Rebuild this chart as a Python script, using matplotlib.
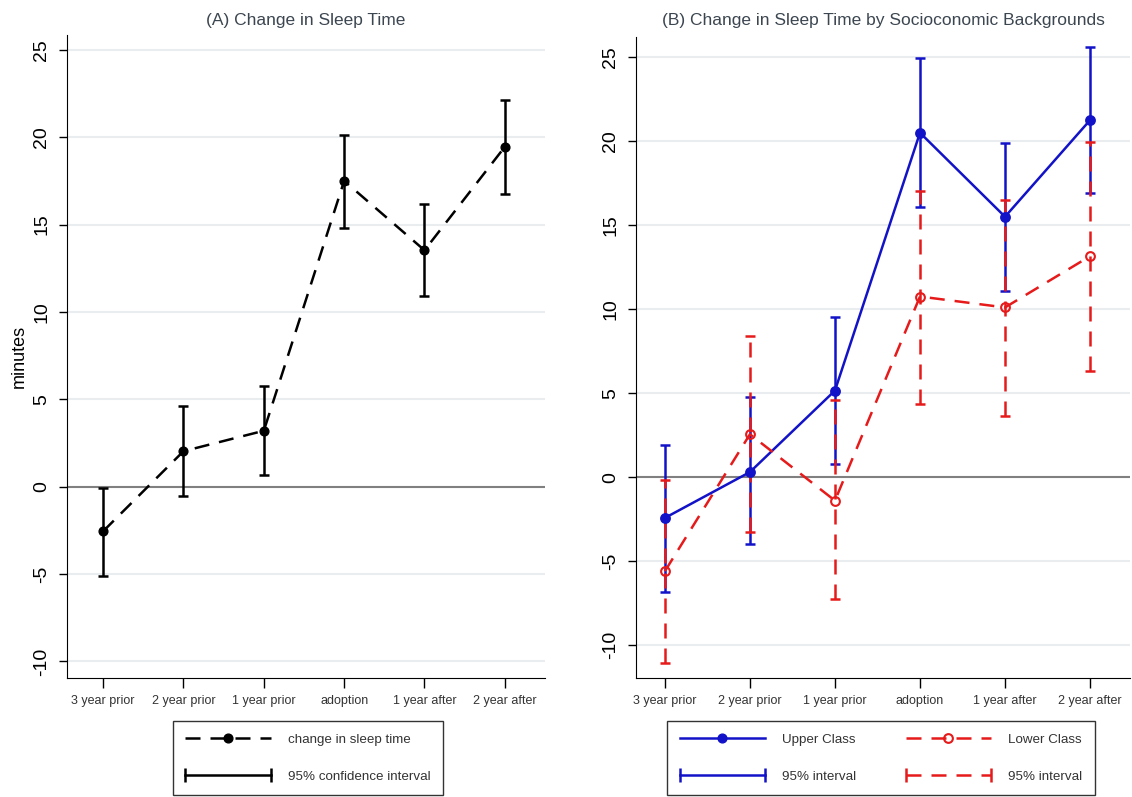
import numpy as np
import matplotlib
matplotlib.use('Agg')
import matplotlib.pyplot as plt
from matplotlib.lines import Line2D
from matplotlib.legend_handler import HandlerLine2D

plt.rcParams['font.family'] = ['Liberation Sans', 'DejaVu Sans']

periods = ['3 year prior', '2 year prior', '1 year prior', 'adoption', '1 year after', '2 year after']
yticks = [-10, -5, 0, 5, 10, 15, 20, 25]

# panel A: all respondents
all_est = [-2.55, 2.03, 3.2, 17.5, 13.53, 19.45]
all_lo = [-5.1, -0.55, 0.65, 14.8, 10.9, 16.75]
all_hi = [-0.05, 4.6, 5.75, 20.1, 16.2, 22.15]

# panel B: by class
upper_est = [-2.43, 0.3, 5.15, 20.5, 15.5, 21.25]
upper_lo = [-6.85, -4.0, 0.8, 16.1, 11.05, 16.9]
upper_hi = [1.9, 4.75, 9.55, 24.95, 19.9, 25.6]

lower_est = [-5.6, 2.55, -1.4, 10.75, 10.1, 13.15]
lower_lo = [-11.05, -3.25, -7.25, 4.35, 3.65, 6.3]
lower_hi = [-0.15, 8.4, 4.6, 17.05, 16.5, 19.95]

BLUE = '#1212c8'
RED = '#e61a1a'
TXT = '#333333'
DASH = (0, (6, 4))


def style_axes(ax, xlim, ylim, title):
    x = np.arange(len(periods))
    ax.set_xlim(*xlim)
    ax.set_ylim(*ylim)
    ax.set_xticks(x)
    ax.set_xticklabels(periods, fontsize=9, color=TXT)
    ax.set_yticks(yticks)
    ax.set_yticklabels([str(v) for v in yticks], rotation=90, va='center', fontsize=14)
    for v in yticks:
        if v == 0:
            ax.axhline(0, color='#808080', lw=1.5, zorder=1)
        else:
            ax.axhline(v, color='#eaedf0', lw=1.5, zorder=0)
    ax.spines['top'].set_visible(False)
    ax.spines['right'].set_visible(False)
    ax.tick_params(axis='y', direction='out', length=6, width=1, pad=6)
    ax.tick_params(axis='x', direction='out', length=7, width=1, pad=5)
    # title placed in figure coords so both panels line up
    pos = ax.get_position()
    fig.text((pos.x0 + pos.x1) / 2, 1 - 21 / 797, title, fontsize=12.5,
             color='#3c4650', ha='center', va='center')


def draw_series(ax, est, lo, hi, color, ls, mfc):
    x = np.arange(len(periods))
    est = np.array(est)
    err = [est - np.array(lo), np.array(hi) - est]
    eb = ax.errorbar(x, est, yerr=err, fmt='none', ecolor=color, elinewidth=1.8,
                     capsize=3.8, capthick=1.8, zorder=3)
    eb[2][0].set_linestyle(ls)
    ax.plot(x, est, color=color, ls=ls, lw=1.8, marker='o', ms=6.3,
            mfc=mfc, mec=color, mew=1.5, zorder=4)


fig = plt.figure(figsize=(11.32, 7.97), dpi=100)
ax1 = fig.add_axes([67 / 1132, 1 - 678 / 797, 478 / 1132, 643 / 797])
ax2 = fig.add_axes([636 / 1132, 1 - 678 / 797, 494 / 1132, 641 / 797])

style_axes(ax1, (-0.45, 5.5), (-10.95, 25.85), '(A) Change in Sleep Time')
style_axes(ax2, (-0.34, 5.47), (-11.96, 26.2), '(B) Change in Sleep Time by Socioconomic Backgrounds')
ax1.set_ylabel('minutes', fontsize=13, labelpad=4)

x = np.arange(len(periods))
all_est_a = np.array(all_est)
ax1.errorbar(x, all_est_a, yerr=[all_est_a - np.array(all_lo), np.array(all_hi) - all_est_a],
             fmt='none', ecolor='black', elinewidth=1.8, capsize=3.8, capthick=1.8, zorder=3)
ax1.plot(x, all_est_a, color='black', ls=DASH, lw=1.8, marker='o', ms=6.3, zorder=4)

draw_series(ax2, upper_est, upper_lo, upper_hi, BLUE, '-', BLUE)
draw_series(ax2, lower_est, lower_lo, lower_hi, RED, DASH, 'none')

two_end = HandlerLine2D(numpoints=2, marker_pad=0)
leg_kw = dict(loc='center', fontsize=9.6, labelcolor=TXT, fancybox=False,
              edgecolor='#333333', framealpha=1, handlelength=6.4, handletextpad=1.3,
              labelspacing=1.85, borderpad=0.95)

h1 = Line2D([], [], color='black', ls=DASH, lw=1.8, marker='o', ms=6.3)
h2 = Line2D([], [], color='black', lw=1.8, marker='|', ms=10, mew=1.8)
leg1 = fig.legend([h1, h2], ['change in sleep time', '95% confidence interval'],
                  bbox_to_anchor=(308 / 1132, 1 - 758 / 797),
                  handler_map={h2: two_end}, **leg_kw)
leg1.get_frame().set_linewidth(1.0)

u1 = Line2D([], [], color=BLUE, lw=1.8, marker='o', ms=6.3)
u2 = Line2D([], [], color=BLUE, lw=1.8, marker='|', ms=10, mew=1.8)
l1 = Line2D([], [], color=RED, ls=DASH, lw=1.8, marker='o', ms=6.3, mfc='none', mew=1.5)
l2 = Line2D([], [], color=RED, ls=DASH, lw=1.8, marker='|', ms=10, mew=1.8)
leg2 = fig.legend([u1, u2, l1, l2], ['Upper Class', '95% interval', 'Lower Class', '95% interval'],
                  ncol=2, bbox_to_anchor=(881 / 1132, 1 - 758 / 797), columnspacing=3.7,
                  handler_map={u2: two_end, l2: two_end}, **leg_kw)
leg2.get_frame().set_linewidth(1.0)

fig.savefig('out.png', dpi=100)
